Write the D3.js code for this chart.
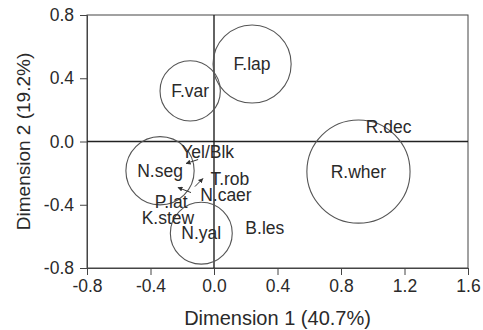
<!DOCTYPE html>
<html>
<head>
<meta charset="utf-8">
<script src="https://cdn.jsdelivr.net/npm/d3@7"></script>
<style>
  body { margin: 0; background: #fff; }
  text { font-family: "Liberation Sans", Arial, sans-serif; fill: #2a2a2a; }
</style>
</head>
<body>
<script>
const width = 483;
const height = 330;

// species scores on the two dimensions
const species = ["F.lap", "F.var", "R.dec", "R.wher", "Yel/Blk", "T.rob", "N.caer", "N.seg", "P.lat", "K.stew", "N.yal", "B.les"];
const dim1 = [0.24, -0.15, 1.10, 0.91, -0.04, 0.10, 0.075, -0.34, -0.27, -0.29, -0.08, 0.32];
const dim2 = [0.49, 0.32, 0.095, -0.19, -0.065, -0.235, -0.34, -0.185, -0.38, -0.485, -0.58, -0.545];
// circle radius (dimension 1 units), 0 = no circle
const radius = [0.246, 0.19, 0, 0.325, 0, 0, 0, 0.215, 0, 0, 0.195, 0];

// small leader arrows [x1, y1, x2, y2]
const arrows = [
  [-0.10, -0.114, -0.176, -0.139],
  [-0.12, -0.285, -0.07, -0.234],
  [-0.145, -0.323, -0.227, -0.291]
];

const xTicks = [-0.8, -0.4, 0.0, 0.4, 0.8, 1.2, 1.6];
const yTicks = [-0.8, -0.4, 0.0, 0.4, 0.8];
const xTitle = "Dimension 1 (40.7%)";
const yTitle = "Dimension 2 (19.2%)";

const margin = {top: 15, right: 15, bottom: 62, left: 87};

const svg = d3.create('svg')
  .attr('width', width)
  .attr('height', height);

document.body.appendChild(svg.node());

const x = d3.scaleLinear()
  .domain([-0.8, 1.6])
  .range([margin.left, width - margin.right]);
const y = d3.scaleLinear()
  .domain([-0.8, 0.8])
  .range([height - margin.bottom, margin.top]);

const fmt = d => d.toFixed(1);

// frame
svg.append('rect')
  .attr('x', x(-0.8))
  .attr('y', y(0.8))
  .attr('width', x(1.6) - x(-0.8))
  .attr('height', y(-0.8) - y(0.8))
  .attr('fill', 'none')
  .attr('stroke', '#444')
  .attr('stroke-width', 1);

// axes
const xAxis = svg.append('g')
  .attr('transform', `translate(0,${y(-0.8)})`)
  .call(d3.axisBottom(x).tickValues(xTicks).tickFormat(fmt).tickSize(7).tickPadding(5));
const yAxis = svg.append('g')
  .attr('transform', `translate(${x(-0.8)},0)`)
  .call(d3.axisLeft(y).tickValues(yTicks).tickFormat(fmt).tickSize(7).tickPadding(6));

[xAxis, yAxis].forEach(a => {
  a.select('.domain').attr('stroke', '#444');
  a.selectAll('.tick line').attr('stroke', '#444');
  a.selectAll('.tick text')
    .attr('font-size', 17.5)
    .attr('font-family', '"Liberation Sans", Arial, sans-serif')
    .attr('fill', '#2a2a2a');
});

// zero lines
svg.append('line')
  .attr('x1', x(-0.8)).attr('x2', x(1.6))
  .attr('y1', y(0)).attr('y2', y(0))
  .attr('stroke', '#222').attr('stroke-width', 1.4);
svg.append('line')
  .attr('x1', x(0)).attr('x2', x(0))
  .attr('y1', y(0.8)).attr('y2', y(-0.8))
  .attr('stroke', '#222').attr('stroke-width', 1.4);

const data = species.map((s, i) => ({name: s, d1: dim1[i], d2: dim2[i], r: radius[i]}));

// circles
svg.selectAll('.bubble')
  .data(data.filter(d => d.r > 0))
  .enter().append('circle')
  .attr('class', 'bubble')
  .attr('cx', d => x(d.d1))
  .attr('cy', d => y(d.d2))
  .attr('r', d => x(d.r) - x(0))
  .attr('fill', 'none')
  .attr('stroke', '#555')
  .attr('stroke-width', 1.1);

// arrows
svg.append('defs').append('marker')
  .attr('id', 'head')
  .attr('viewBox', '0 0 10 10')
  .attr('refX', 9).attr('refY', 5)
  .attr('markerWidth', 5).attr('markerHeight', 5)
  .attr('orient', 'auto')
  .append('path')
  .attr('d', 'M0,0L10,5L0,10z')
  .attr('fill', '#333');

svg.selectAll('.arrow')
  .data(arrows)
  .enter().append('line')
  .attr('class', 'arrow')
  .attr('x1', d => x(d[0])).attr('y1', d => y(d[1]))
  .attr('x2', d => x(d[2])).attr('y2', d => y(d[3]))
  .attr('stroke', '#333')
  .attr('stroke-width', 1)
  .attr('marker-end', 'url(#head)');

// labels
svg.selectAll('.label')
  .data(data)
  .enter().append('text')
  .attr('class', 'label')
  .attr('x', d => x(d.d1))
  .attr('y', d => y(d.d2))
  .attr('dy', '0.35em')
  .attr('text-anchor', 'middle')
  .attr('font-size', 17.5)
  .text(d => d.name);

// titles
svg.append('text')
  .attr('x', (x(-0.8) + x(1.6)) / 2)
  .attr('y', 325)
  .attr('text-anchor', 'middle')
  .attr('font-size', 20)
  .text(xTitle);

svg.append('text')
  .attr('transform', `translate(30,${(y(0.8) + y(-0.8)) / 2}) rotate(-90)`)
  .attr('text-anchor', 'middle')
  .attr('font-size', 19)
  .text(yTitle);
</script>
</body>
</html>
